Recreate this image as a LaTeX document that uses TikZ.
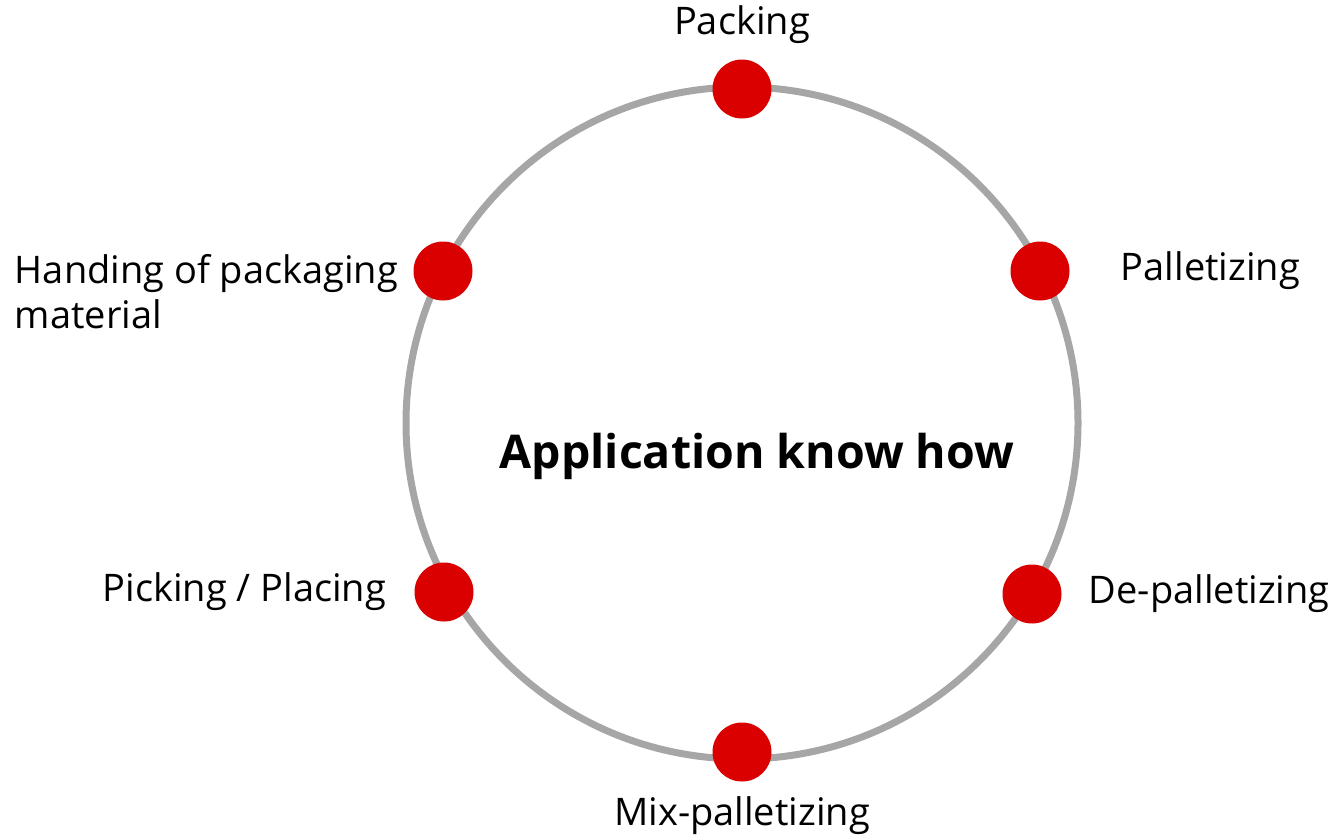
\documentclass[tikz,border=0pt]{standalone}
\usepackage{fontspec}
\setmainfont{Open Sans}
\usepackage{xcolor}
\usetikzlibrary{
	positioning,
	}
\definecolor{dotred}{RGB}{218,0,0}
\definecolor{ringgray}{RGB}{166,166,166}

\begin{document}
\begin{tikzpicture}[x=1pt, y=-1pt,
		dot/.style={circle, fill=dotred, minimum size=59pt, inner sep=0pt},
		lbl/.style={font=\fontsize{38}{45}\selectfont, inner sep=0pt},
	]
		\useasboundingbox (0,0) rectangle (1335,839);
		\coordinate (c) at (742,423);
		\draw[ringgray, line width=7pt] (c) circle[radius=336];
		\node[font=\fontsize{46.5}{54}\selectfont\bfseries] (know) at (757,456) {Application know how};
		\node[dot] (pack) at (742,89) {};
		\node[dot] (pall) at (1040,271) {};
		\node[dot] (depall) at (1032,594) {};
		\node[dot] (mix) at (742,752) {};
		\node[dot] (pick) at (444,592) {};
		\node[dot] (hand) at (443,271) {};
		\node[lbl, above = 15pt of pack] (packlbl) {Packing};
		\node[lbl, right = 51pt of pall] (palllbl) {Palletizing};
		\node[lbl, right = 27pt of depall] (depalllbl) {De-palletizing};
		\node[lbl, below = 15pt of mix] (mixlbl) {Mix-palletizing};
		\node[lbl, left = 28pt of pick] (picklbl) {Picking / Placing};
		\node[lbl, align=left, left = 15pt of hand, anchor=north east, yshift=17pt] (handlbl) {Handing of packaging\\material};
	\end{tikzpicture}
\end{document}
